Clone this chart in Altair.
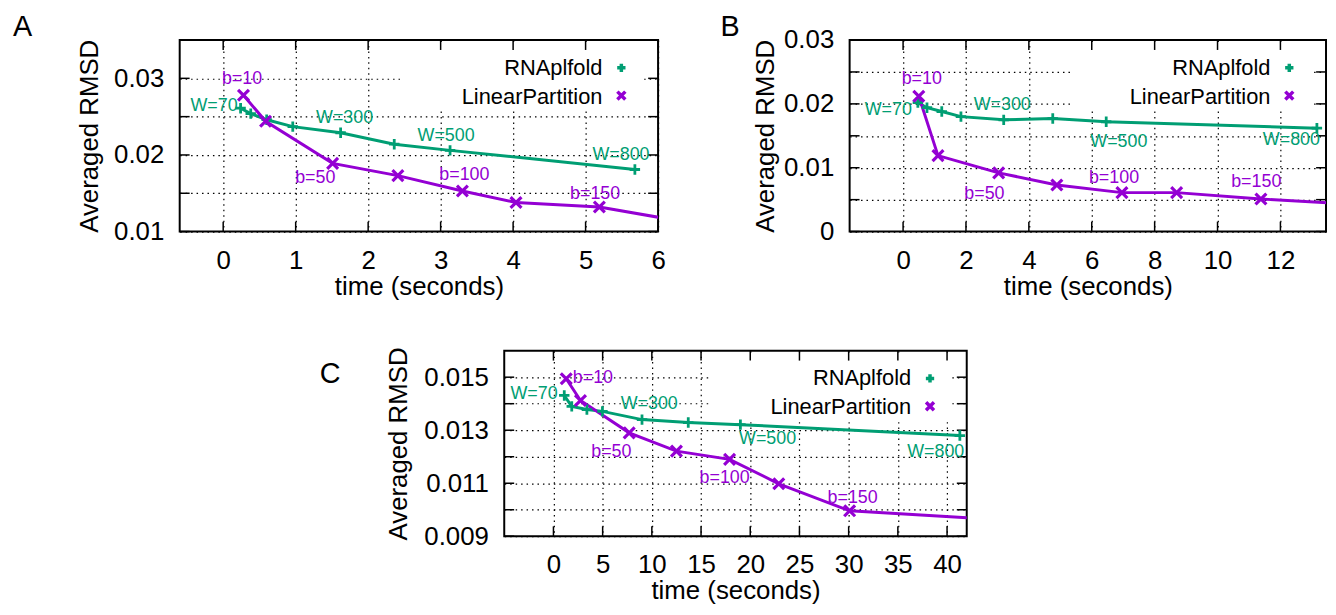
import altair as alt
import pandas as pd

FONT = "Liberation Sans"
GREEN = "#009E73"
PURPLE = "#9400D3"
PLUS = "M-1,0L1,0M0,-1L0,1"
CROSS = "M-1,-1L1,1M-1,1L1,-1"

series_names = ["RNAplfold", "LinearPartition"]
x_title = "time (seconds)"
y_title = "Averaged RMSD"
rna_labels = ["W=70", "", "", "", "W=300", "", "W=500", "W=800"]
lp_labels = ["b=10", "", "b=50", "", "b=100", "", "b=150", ""]

# ---- Panel A ----
a_rna_t = [0.24, 0.38, 0.60, 0.96, 1.62, 2.36, 3.13, 5.68]
a_rna_r = [0.0261, 0.0254, 0.0246, 0.0237, 0.0229, 0.0214, 0.0206, 0.0181]
a_lp_t = [0.28, 0.585, 1.51, 2.41, 3.30, 4.04, 5.19, 6.90]
a_lp_r = [0.0278, 0.0244, 0.0189, 0.0173, 0.0153, 0.0138, 0.0132, 0.0104]
a_xticks = [0, 1, 2, 3, 4, 5, 6]
a_yticks = [0.01, 0.015, 0.02, 0.025, 0.03]

# ---- Panel B ----
b_rna_t = [0.47, 0.76, 1.23, 1.84, 3.20, 4.76, 6.46, 13.16]
b_rna_r = [0.0202, 0.0194, 0.0188, 0.0180, 0.0175, 0.0177, 0.0172, 0.0162]
b_lp_t = [0.50, 1.11, 3.04, 4.89, 6.96, 8.70, 11.38, 15.0]
b_lp_r = [0.0212, 0.0119, 0.0092, 0.0073, 0.0061, 0.0061, 0.0051, 0.0041]
b_xticks = [0, 2, 4, 6, 8, 10, 12]
b_yticks = [0, 0.005, 0.01, 0.015, 0.02, 0.025, 0.03]

# ---- Panel C ----
c_rna_t = [1.1, 1.86, 3.4, 4.98, 9.0, 13.7, 19.0, 41.3]
c_rna_r = [0.01431, 0.0139, 0.01378, 0.01371, 0.0134, 0.01329, 0.01321, 0.0128]
c_lp_t = [1.3, 2.75, 7.7, 12.5, 17.9, 22.9, 30.1, 55.0]
c_lp_r = [0.01494, 0.01412, 0.0129, 0.01221, 0.0119, 0.01098, 0.00996, 0.00942]
c_xticks = [0, 5, 10, 15, 20, 25, 30, 35, 40]
c_yticks = [0.009, 0.010, 0.011, 0.012, 0.013, 0.014, 0.015]


def panel(letter, letter_xy, rna_t, rna_r, lp_t, lp_r, xdom, ydom, xticks, yticks,
          ylab_expr, width, height, ytitle_pad, offsets):
    xs = alt.Scale(domain=xdom, nice=False, zero=False)
    ys = alt.Scale(domain=ydom, nice=False, zero=False)
    common = dict(grid=True, ticks=False, domain=False, labelFont=FONT, labelFontSize=26,
                  labelColor="black", labelPadding=16, labelOverlap=False, titleFont=FONT,
                  titleFontSize=26, titleFontWeight="normal", titleColor="black",
                  gridColor="black", gridDash=[1.5, 4], gridWidth=1.2, gridOpacity=1)
    xaxis = alt.Axis(values=xticks, title=x_title, labelFlush=False, format="d",
                     titlePadding=0, **common)
    yaxis = alt.Axis(values=yticks, title=y_title, labelExpr=ylab_expr,
                     titlePadding=ytitle_pad, **common)
    X = alt.X("t:Q", scale=xs, axis=xaxis)
    Y = alt.Y("r:Q", scale=ys, axis=yaxis)
    dummy = pd.DataFrame({"d": [0]})
    layers = []
    # opaque key box
    layers.append(alt.Chart(dummy).mark_rect(color="white").encode(
        x=alt.value(width - 257), x2=alt.value(width - 15), y=alt.value(2), y2=alt.value(70)))
    # inward ticks on all four sides
    xt = pd.DataFrame({"t": xticks})
    yt = pd.DataFrame({"r": yticks})
    tk = dict(color="black", strokeWidth=1.5)
    layers.append(alt.Chart(xt).mark_rule(**tk).encode(x=X, y=alt.value(height), y2=alt.value(height - 10)))
    layers.append(alt.Chart(xt).mark_rule(**tk).encode(x=X, y=alt.value(0), y2=alt.value(10)))
    layers.append(alt.Chart(yt).mark_rule(**tk).encode(y=Y, x=alt.value(0), x2=alt.value(10)))
    layers.append(alt.Chart(yt).mark_rule(**tk).encode(y=Y, x=alt.value(width), x2=alt.value(width - 10)))
    # series
    rna_df = pd.DataFrame({"t": rna_t, "r": rna_r})
    lp_df = pd.DataFrame({"t": lp_t, "r": lp_r})
    layers.append(alt.Chart(rna_df).mark_line(color=GREEN, strokeWidth=3, clip=True).encode(x=X, y=Y))
    layers.append(alt.Chart(lp_df).mark_line(color=PURPLE, strokeWidth=3, clip=True).encode(x=X, y=Y))
    layers.append(alt.Chart(rna_df).mark_point(shape=PLUS, filled=False, color=GREEN, strokeWidth=2.8,
                                               size=110, opacity=1, clip=True).encode(x=X, y=Y))
    layers.append(alt.Chart(lp_df).mark_point(shape=CROSS, filled=False, color=PURPLE, strokeWidth=3.2,
                                              size=120, opacity=1, clip=True).encode(x=X, y=Y))
    # point labels
    for (ser, idx), (align, dx, dy) in offsets.items():
        if ser == "rna":
            t, r, lab, col = rna_t[idx], rna_r[idx], rna_labels[idx], GREEN
        else:
            t, r, lab, col = lp_t[idx], lp_r[idx], lp_labels[idx], PURPLE
        ldf = pd.DataFrame({"t": [t], "r": [r], "lab": [lab]})
        layers.append(alt.Chart(ldf).mark_text(font=FONT, fontSize=18, color=col, align=align,
                                               baseline="alphabetic", dx=dx, dy=dy).encode(
            x=X, y=Y, text="lab:N"))
    # key
    for i, (name, col, shp, sz) in enumerate([(series_names[0], GREEN, PLUS, 70),
                                              (series_names[1], PURPLE, CROSS, 64)]):
        layers.append(alt.Chart(dummy).mark_text(font=FONT, fontSize=22, color="black", align="right",
                                                 baseline="alphabetic").encode(
            x=alt.value(width - 56), y=alt.value(35 + 29 * i), text=alt.value(name)))
        layers.append(alt.Chart(dummy).mark_point(shape=shp, filled=False, color=col, strokeWidth=3.5,
                                                  size=sz, opacity=1).encode(
            x=alt.value(width - 37), y=alt.value(28 + 28 * i)))
    # panel letter
    layers.append(alt.Chart(dummy).mark_text(font=FONT, fontSize=29, color="black", align="left",
                                             baseline="alphabetic").encode(
        x=alt.value(letter_xy[0]), y=alt.value(letter_xy[1]), text=alt.value(letter)))
    return alt.layer(*layers).properties(width=width, height=height)


a_off = {("rna", 0): ("right", -3, 2.5), ("rna", 4): ("center", 4, -10),
         ("rna", 6): ("center", -4, -9), ("rna", 7): ("center", -14, -9.4),
         ("lp", 0): ("center", -1.5, -11.6), ("lp", 2): ("center", -17.5, 20),
         ("lp", 4): ("center", 2, -11.3), ("lp", 6): ("center", -4.3, -8.3)}
b_off = {("rna", 0): ("right", -6, 12.7), ("rna", 4): ("center", -1.5, -9.7),
         ("rna", 6): ("center", 12.7, 25.8), ("rna", 7): ("center", -25.7, 17.3),
         ("lp", 0): ("center", 3, -12.7), ("lp", 2): ("center", -14.4, 26),
         ("lp", 4): ("center", -8, -9.7), ("lp", 6): ("center", -4.7, -12.4)}
c_off = {("rna", 0): ("right", -6.7, 4), ("rna", 4): ("center", 7.3, -11),
         ("rna", 6): ("center", 27.4, 19), ("rna", 7): ("center", -24.3, 21.7),
         ("lp", 0): ("left", 6.6, 4.3), ("lp", 2): ("center", -18, 24),
         ("lp", 4): ("center", -5, 24), ("lp", 6): ("center", 3, -8)}

expr_a = "round(datum.value*1000) % 10 == 0 ? format(datum.value, '.2f') : ''"
expr_b = "round(datum.value*1000) % 10 == 0 ? (datum.value == 0 ? '0' : format(datum.value, '.2f')) : ''"
expr_c = "round(datum.value*1000) % 2 == 1 ? format(datum.value, '.3f') : ''"

pa = panel("A", (-168, -4), a_rna_t, a_rna_r, a_lp_t, a_lp_r, [-0.6, 6], [0.01, 0.035],
           a_xticks, a_yticks, expr_a, 482, 193, 11, a_off)
pb = panel("B", (-130, -4), b_rna_t, b_rna_r, b_lp_t, b_lp_r, [-1.7, 13.45], [0, 0.03],
           b_xticks, b_yticks, expr_b, 480, 193, 5, b_off)
pc = panel("C", (-186, 33), c_rna_t, c_rna_r, c_lp_t, c_lp_r, [-5, 42], [0.009, 0.016],
           c_xticks, c_yticks, expr_c, 466, 187, 12, c_off)

spacer = alt.Chart(pd.DataFrame({"d": [0]})).mark_point(opacity=0).properties(
    width=327, height=1, view=alt.ViewBackground(stroke="transparent"))

row1 = alt.hconcat(pa, pb, spacing=193, bounds="flush")
row2 = alt.hconcat(spacer, pc, spacing=0, bounds="flush")
chart = alt.vconcat(row1, row2, spacing=46).properties(
    padding={"left": 4, "top": 2, "right": 0, "bottom": 0}, background="white"
).configure_view(stroke="black", strokeWidth=2)

chart.save("out.html", embed_options={"renderer": "svg", "actions": False})
